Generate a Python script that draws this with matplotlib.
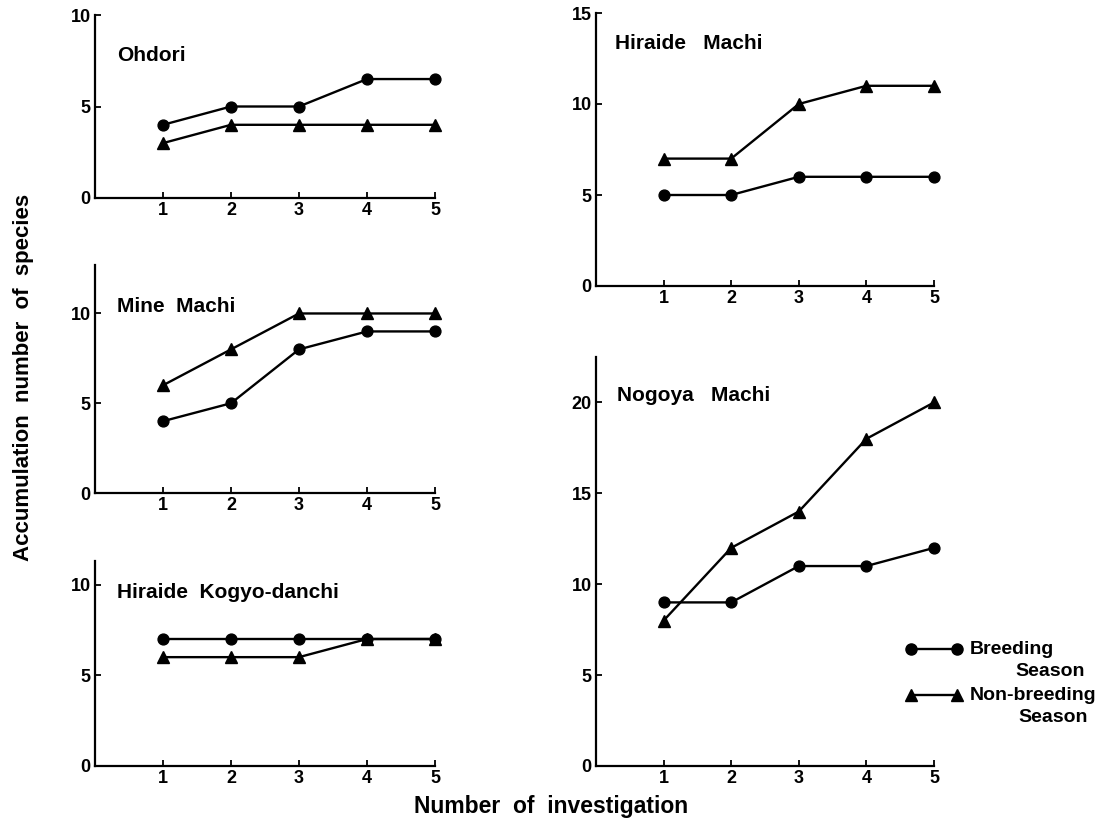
import matplotlib
matplotlib.use("Agg")
import matplotlib.pyplot as plt
from matplotlib.lines import Line2D

plt.rcParams["font.family"] = ["Liberation Sans", "DejaVu Sans"]
plt.rcParams["font.weight"] = "bold"

# number of investigation (x) and accumulated species counts per site
investigations = [1, 2, 3, 4, 5]

ohdori_breeding = [4, 5, 5, 6.5, 6.5]
ohdori_nonbreeding = [3, 4, 4, 4, 4]
mine_breeding = [4, 5, 8, 9, 9]
mine_nonbreeding = [6, 8, 10, 10, 10]
kogyo_breeding = [7, 7, 7, 7, 7]
kogyo_nonbreeding = [6, 6, 6, 7, 7]
hiraide_breeding = [5, 5, 6, 6, 6]
hiraide_nonbreeding = [7, 7, 10, 11, 11]
nogoya_breeding = [9, 9, 11, 11, 12]
nogoya_nonbreeding = [8, 12, 14, 18, 20]

site_names = ["Ohdori", "Mine  Machi", "Hiraide  Kogyo-danchi", "Hiraide   Machi", "Nogoya   Machi"]
y_ticks = [[0, 5, 10], [0, 5, 10], [0, 5, 10], [0, 5, 10, 15], [0, 5, 10, 15, 20]]
y_max = [10, 12.7, 11.3, 15, 22.5]

W, H = 1106, 819
fig = plt.figure(figsize=(W / 100, H / 100), dpi=100)


def px_axes(x0, x1, y0, y1):
    # x0/x1: pixel columns of x=0 and x=5, y0/y1: pixel rows of axis bottom and top
    return fig.add_axes([x0 / W, 1 - y0 / H, (x1 - x0) / W, (y0 - y1) / H])


boxes = [
    (95, 435, 198, 15),
    (95, 435, 493, 265),
    (95, 435, 766, 561),
    (596, 934, 286, 13),
    (596, 934, 766, 357),
]
label_pos = [(0.32, 7.8), (0.32, 10.4), (0.32, 9.55), (0.28, 13.35), (0.31, 20.4)]
series = [
    (ohdori_breeding, ohdori_nonbreeding),
    (mine_breeding, mine_nonbreeding),
    (kogyo_breeding, kogyo_nonbreeding),
    (hiraide_breeding, hiraide_nonbreeding),
    (nogoya_breeding, nogoya_nonbreeding),
]

for box, name, ticks, ymax, (lx, ly), (br, nb) in zip(boxes, site_names, y_ticks, y_max, label_pos, series):
    ax = px_axes(*box)
    ax.plot(investigations, nb, color="black", lw=1.7, marker="^", ms=8.3, clip_on=False)
    ax.plot(investigations, br, color="black", lw=1.7, marker="o", ms=7.8, clip_on=False)
    ax.set_xlim(0, 5)
    ax.set_ylim(0, ymax)
    ax.set_xticks(investigations)
    ax.set_yticks(ticks)
    ax.spines[["top", "right"]].set_visible(False)
    ax.spines[["left", "bottom"]].set_linewidth(1.6)
    ax.tick_params(direction="in", length=4, width=1.3, labelsize=13, pad=3)
    for lab in ax.get_xticklabels() + ax.get_yticklabels():
        lab.set_fontweight("bold")
    ax.patch.set_alpha(0)
    ax.text(lx, ly, name, fontsize=15, fontweight="bold", va="center", ha="left")

fig.text(24 / W, 1 - 377 / H, "Accumulation  number  of  species", rotation=90,
         fontsize=16, fontweight="bold", ha="center", va="center")
fig.text(551 / W, 1 - 806 / H, "Number  of  investigation",
         fontsize=16.5, fontweight="bold", ha="center", va="center")

# legend keys
for y_key, marker, first, second, second_x in [
    (649, "o", "Breeding", "Season", 1015),
    (695, "^", "Non-breeding", "Season", 1018),
]:
    fig.add_artist(Line2D([911 / W, 957 / W], [1 - y_key / H, 1 - y_key / H],
                          transform=fig.transFigure, color="black", lw=1.7,
                          marker=marker, ms=8))
    fig.text(970 / W, 1 - y_key / H, first, fontsize=14, fontweight="bold", va="center")
    fig.text(second_x / W, 1 - (y_key + 22) / H, second, fontsize=14, fontweight="bold", va="center")

fig.savefig("out.png", dpi=100)
